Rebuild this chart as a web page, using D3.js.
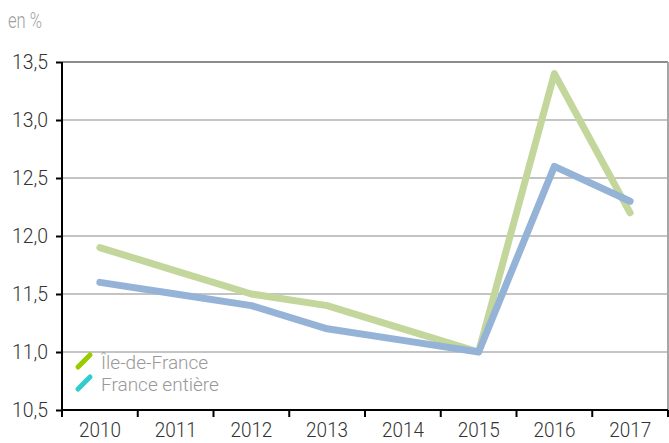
<!DOCTYPE html>
<html><head><meta charset="utf-8">
<script src="https://cdn.jsdelivr.net/npm/d3@7"></script>
<style>body{margin:0;background:#fff}svg{display:block}</style>
</head><body><svg id="c" width="669" height="443"></svg>
<script>
const years = ["2010","2011","2012","2013","2014","2015","2016","2017"];
const idf = [11.9, 11.7, 11.5, 11.4, 11.2, 11.0, 13.4, 12.2];
const france = [11.6, 11.5, 11.4, 11.2, 11.1, 11.0, 12.6, 12.3];
const yTicks = [10.5, 11.0, 11.5, 12.0, 12.5, 13.0, 13.5];
const seriesNames = ["Île-de-France", "France entière"];

const FONT = "Roboto,'Liberation Sans',sans-serif";
const svg = d3.select("#c");
const L = 62, R = 668, T = 62, B = 410;
const x = d3.scaleBand().domain(years).range([L, R]);
const y = d3.scaleLinear().domain([10.5, 13.5]).range([B, T]);
const fmt = v => d3.format(".1f")(v).replace(".", ",");

// grid
svg.append("g").selectAll("line").data(yTicks.slice(1)).join("line")
  .attr("x1", L).attr("x2", R).attr("y1", d => y(d)).attr("y2", d => y(d))
  .attr("stroke", d => d === 13.5 ? "#8c8c8c" : "#c4c4c4").attr("stroke-width", 2);
svg.append("line").attr("x1", R).attr("x2", R).attr("y1", T).attr("y2", B)
  .attr("stroke", "#a6a6a6").attr("stroke-width", 2);

// y axis
const ya = svg.append("g").attr("transform", `translate(${L},0)`)
  .call(d3.axisLeft(y).tickValues(yTicks).tickFormat(fmt).tickSize(6).tickPadding(8));
ya.select(".domain").attr("stroke", "#000").attr("stroke-width", 2).attr("d", `M0,${T}V${B}`);
ya.selectAll(".tick line").attr("stroke", "#000").attr("stroke-width", 2);
ya.selectAll(".tick text").attr("font-family", FONT).attr("font-weight", 300).attr("font-size", 21)
  .attr("fill", "#333").attr("textLength", 36).attr("lengthAdjust", "spacingAndGlyphs");

// x axis
const xa = svg.append("g").attr("transform", `translate(0,${B})`)
  .call(d3.axisBottom(x).tickSize(0).tickPadding(13));
xa.select(".domain").attr("stroke", "#000").attr("stroke-width", 2).attr("d", `M${L},0H${R}`);
xa.selectAll(".tick text").attr("font-family", FONT).attr("font-weight", 300).attr("font-size", 20)
  .attr("fill", "#333").attr("dy", "0.71em").attr("textLength", 42).attr("lengthAdjust", "spacingAndGlyphs");
const bounds = years.map(d => x(d)).concat([R]);
svg.append("g").selectAll("line").data(bounds).join("line")
  .attr("x1", d => d).attr("x2", d => d).attr("y1", B).attr("y2", B + 7)
  .attr("stroke", "#000").attr("stroke-width", 2);

// lines
const line = d3.line().x((d, i) => x(years[i]) + x.bandwidth() / 2).y(d => y(d));
svg.append("path").datum(idf).attr("d", line).attr("fill", "none")
  .attr("stroke", "#c3d69b").attr("stroke-width", 7).attr("stroke-linecap", "round").attr("stroke-linejoin", "round");
svg.append("path").datum(france).attr("d", line).attr("fill", "none")
  .attr("stroke", "#95b3d7").attr("stroke-width", 7).attr("stroke-linecap", "round").attr("stroke-linejoin", "round");

// unit label
svg.append("text").attr("x", 8).attr("y", 28).text("en %")
  .attr("font-family", FONT).attr("font-weight", 300).attr("font-size", 22).attr("fill", "#a0a0a0")
  .attr("textLength", 34).attr("lengthAdjust", "spacingAndGlyphs");

// legend
const legCol = ["#99cc00", "#33cccc"];
seriesNames.forEach((n, i) => {
  const yy = 367 + i * 22;
  svg.append("line").attr("x1", 78).attr("y1", yy).attr("x2", 90).attr("y2", yy - 12)
    .attr("stroke", legCol[i]).attr("stroke-width", 5).attr("stroke-linecap", "round");
  svg.append("text").attr("x", 101).attr("y", yy + 2).text(n)
    .attr("font-family", FONT).attr("font-weight", 300).attr("font-size", 19).attr("fill", "#999");
});
</script></body></html>
